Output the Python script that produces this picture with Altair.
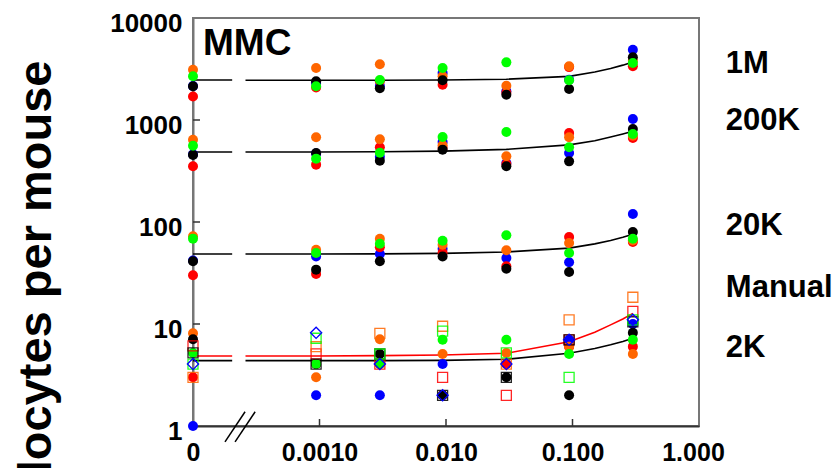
import altair as alt
import pandas as pd

# ---------------- data ----------------
doses = [0, 0.00094, 0.003, 0.0094, 0.03, 0.094, 0.3]
ZERO_POS = 0.0001          # where dose 0 is drawn (axis break)

series_names = ["blue", "red", "orange", "black", "green"]
series_colors = ["#0000FF", "#FF0000", "#FF6600", "#000000", "#00FF00"]

# filled circles, per target count group, per animal colour (values at each dose)
g1M = {
    "blue":   [2150, 2300, 2150, 2890, 1910, 2480, 4890],
    "red":    [1700, 2080, 2400, 2220, 1850, 3300, 3360],
    "orange": [3110, 3235, 3515, 2680, 2170, 3360, 3815],
    "black":  [2140, 2395, 2046, 2450, 1770, 2014, 4115],
    "green":  [2680, 2140, 2467, 3235, 3675, 2450, 3620],
}
g200K = {
    "blue":   [460, 470, 437, 608, 379, 475, 1023],
    "red":    [352, 365, 540, 530, 370, 746, 666],
    "orange": [641, 677, 647, 565, 441, 677, 700],
    "black":  [455, 475, 399, 512, 352, 393, 816],
    "green":  [560, 418, 478, 681, 763, 540, 729],
}
g20K = {
    "blue":   [42, 46, 48.6, 54.7, 44.4, 40.3, 120],
    "red":    [30, 30.9, 56.5, 50, 36.8, 71.3, 63.7],
    "orange": [72.4, 53.5, 68.6, 59.9, 52.8, 62.2, 66],
    "black":  [41.2, 34.1, 41.2, 46, 34.8, 32.4, 79.8],
    "green":  [68.7, 49.7, 61.3, 65.6, 74, 49.7, 68.6],
}
g2K = {
    "blue":   [1.0, 2.0, 2.0, 4.05, 4.05, 7.0, 10.0],
    "red":    [3.0, 4.05, 4.05, 2.0, 4.05, 6.0, 6.0],
    "orange": [8.1, 3.0, 7.08, 5.08, 5.2, 6.0, 5.08],
    "black":  [7.1, 4.05, 5.08, 2.0, 3.0, 2.0, 8.2],
    "green":  [5.2, 4.05, 4.05, 7.0, 7.0, 5.08, 7.0],
}
# manual counts: open squares (blue drawn as open diamond)
manual = {
    "red":    [6.1, 5.1, 4.05, 3.0, 2.0, 7.0, 13.3],
    "orange": [3.0, 6.0, 8.1, 9.5, 4.05, 11.0, 18.3],
    "black":  [5.2, 4.05, 5.08, 2.0, 3.0, 7.0, 10.5],
    "green":  [4.05, 7.25, 5.08, 8.5, 5.2, 3.0, 11.0],
    "blue":   [4.05, 8.2, 4.05, 2.0, 4.05, 7.0, 11.0],
}

# fitted curves
curve_x = [0.00026, 0.00094, 0.003, 0.0094, 0.03, 0.094, 0.15, 0.2, 0.25, 0.3]
curves = {
    "1M":     [2450, 2450, 2455, 2465, 2510, 2680, 2950, 3200, 3450, 3700],
    "200K":   [486, 486, 488, 495, 515, 570, 625, 680, 730, 775],
    "20K":    [48.5, 48.5, 48.7, 49.2, 50.8, 55.5, 61, 66, 71, 76],
    "2K":     [4.37, 4.37, 4.37, 4.4, 4.51, 5.16, 5.75, 6.25, 6.75, 7.24],
    "Manual": [4.86, 4.86, 4.9, 4.97, 5.16, 6.7, 8.3, 9.8, 11.2, 12.7],
}
curve_colors = {"1M": "#000000", "200K": "#000000", "20K": "#000000",
                "2K": "#000000", "Manual": "#FF0000"}
zero_seg_x = [0.0001, 0.000204]
zero_levels = {"1M": 2467, "200K": 486, "20K": 48.6, "2K": 4.37, "Manual": 4.86}

right_labels = ["1M", "200K", "20K", "Manual", "2K"]
right_label_y = [2890, 798, 74.6, 18.5, 4.78]
right_label_x = 1.63

panel_title = "MMC"
panel_title_pos = (0.00012, 4340)

x_tick_values = [0.0001, 0.001, 0.01, 0.1, 1.0]
x_tick_labels = ["0", "0.0010", "0.010", "0.100", "1.000"]
x_inner_ticks = [0.001, 0.01, 0.1]
y_tick_values = [1, 10, 100, 1000, 10000]
y_inner_ticks = [10, 100, 1000]

# axis break marks (two slashes), in data coordinates
break_x1 = [0.000179, 0.000215]
break_x2 = [0.000258, 0.00031]
break_y1 = [0.70, 0.70]
break_y2 = [1.38, 1.38]

y_title = "Micronucleated reticulocytes per mouse"

# ---------------- build tables ----------------
def xpos(d):
    return ZERO_POS if d == 0 else d

circ_rows = []
for grp in [g1M, g200K, g20K, g2K]:
    for name in series_names:
        for d, v in zip(doses, grp[name]):
            circ_rows.append({"x": xpos(d), "y": v, "c": name})
circ_df = pd.DataFrame(circ_rows)

sq_rows, dm_rows = [], []
for name in ["red", "orange", "black", "green"]:
    for d, v in zip(doses, manual[name]):
        sq_rows.append({"x": xpos(d), "y": v, "c": name})
for d, v in zip(doses, manual["blue"]):
    dm_rows.append({"x": xpos(d), "y": v, "c": "blue"})
sq_df = pd.DataFrame(sq_rows)
dm_df = pd.DataFrame(dm_rows)

curve_rows = []
for k, vals in curves.items():
    for cx, cy in zip(curve_x, vals):
        curve_rows.append({"x": cx, "y": cy, "s": k + "_fit", "col": curve_colors[k]})
    for zx in zero_seg_x:
        curve_rows.append({"x": zx, "y": zero_levels[k], "s": k + "_zero", "col": curve_colors[k]})
curve_df = pd.DataFrame(curve_rows)

lab_df = pd.DataFrame({"x": [right_label_x] * len(right_labels), "y": right_label_y,
                       "t": right_labels})
title_df = pd.DataFrame({"x": [panel_title_pos[0]], "y": [panel_title_pos[1]], "t": [panel_title]})
brk_df = pd.DataFrame({"x": break_x1, "x2": break_x2, "y": break_y1, "y2": break_y2})
xt_df = pd.DataFrame({"x": x_inner_ticks})
yt_df = pd.DataFrame({"y": y_inner_ticks})

# ---------------- scales / axes ----------------
W, H = 506, 408
FONT = "Liberation Sans"

label_expr = ""
for i, (v, lab) in enumerate(zip(x_tick_values, x_tick_labels)):
    if i < len(x_tick_values) - 1:
        thr = (v * x_tick_values[i + 1]) ** 0.5
        label_expr += f"datum.value < {thr} ? '{lab}' : "
    else:
        label_expr += f"'{lab}'"

xs = alt.Scale(type="log", domain=[0.0001, 1], nice=False)
ys = alt.Scale(type="log", domain=[1, 10000], nice=False)

xaxis = alt.Axis(values=x_tick_values, labelExpr=label_expr, ticks=False, grid=False,
                 domainColor="#333333", domainWidth=2, labelFont=FONT, labelFontSize=25,
                 labelFontWeight="bold", labelColor="#000000", labelPadding=14,
                 labelFlush=False,
                 labelOffset={"condition": {"test": "datum.value >= 0.5", "value": -6}, "value": 0},
                 title=None)
yaxis = alt.Axis(values=y_tick_values, format="d", ticks=False, grid=False,
                 domainColor="#777777", domainWidth=2, labelFont=FONT, labelFontSize=26,
                 labelFontWeight="bold", labelColor="#000000", labelPadding=11, labelOffset=5,
                 title=y_title, titleFont=FONT, titleFontSize=47, titleFontWeight="bold",
                 titleColor="#000000", titleAngle=270, titleAlign="right",
                 titleBaseline="alphabetic", titleX=-143, titleY=42)

X = alt.X("x:Q", scale=xs, axis=xaxis)
Y = alt.Y("y:Q", scale=ys, axis=yaxis)
cscale = alt.Scale(domain=series_names, range=series_colors)

lines = alt.Chart(curve_df).mark_line(strokeWidth=1.6).encode(
    x=X, y=Y, detail="s:N",
    color=alt.Color("col:N", scale=None, legend=None))

circles = alt.Chart(circ_df).mark_circle(size=100, opacity=1).encode(
    x=X, y=Y, color=alt.Color("c:N", scale=cscale, legend=None))

squares = alt.Chart(sq_df).mark_point(shape="square", filled=False, size=100,
                                      strokeWidth=1.3, opacity=0.85).encode(
    x=X, y=Y, color=alt.Color("c:N", scale=cscale, legend=None))

diamonds = alt.Chart(dm_df).mark_point(shape="diamond", filled=False, size=125,
                                       strokeWidth=1.3, opacity=1).encode(
    x=X, y=Y, color=alt.Color("c:N", scale=cscale, legend=None))

xticks = alt.Chart(xt_df).mark_rule(color="#333333", strokeWidth=1.5).encode(
    x=X, y=alt.value(H), y2=alt.value(H - 7))
yticks = alt.Chart(yt_df).mark_rule(color="#333333", strokeWidth=1.5).encode(
    y=Y, x=alt.value(0), x2=alt.value(7))

breaks = alt.Chart(brk_df).mark_rule(color="#000000", strokeWidth=1.5).encode(
    x=X, x2="x2:Q", y=Y, y2="y2:Q")

rlabels = alt.Chart(lab_df).mark_text(align="left", baseline="alphabetic", font=FONT,
                                      fontSize=31, fontWeight="bold", color="#000000").encode(
    x=X, y=Y, text="t:N")
ptitle = alt.Chart(title_df).mark_text(align="left", baseline="alphabetic", font=FONT,
                                       fontSize=37, fontWeight="bold", color="#000000").encode(
    x=X, y=Y, text="t:N")

chart = alt.layer(lines, circles, squares, diamonds, xticks, yticks, breaks, rlabels, ptitle).properties(
    width=W, height=H,
    autosize=alt.AutoSizeParams(type="none"),
    padding={"left": 185, "top": 10, "right": 133, "bottom": 42},
    background="#FFFFFF",
).configure_view(stroke="#777777", strokeWidth=2)

chart.save("out.html", embed_options={"renderer": "svg", "actions": False})
